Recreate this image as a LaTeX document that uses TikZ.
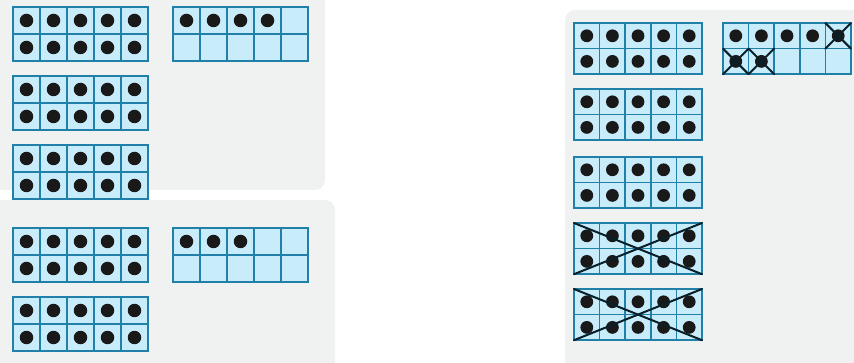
\documentclass[tikz,border=0pt]{standalone}
\usetikzlibrary{calc}
\definecolor{tfblue}{RGB}{32,128,168}
\definecolor{tfcell}{RGB}{200,236,250}
\definecolor{tfpanel}{RGB}{240,242,242}

\tikzset{
  panel/.style={fill=tfpanel, draw=none, rounded corners=10pt},
  frameline/.style={draw=tfblue, line width=2.2pt},
  innerline/.style={draw=tfblue, line width=1.7pt},
  counter/.style={fill=black!90},
  crossline/.style={draw=black!75!tfblue, line width=2pt, line cap=round},
}

% ten frame: left, top, cell size, number of counters
\newcommand{\tenframe}[4]{%
  \begin{scope}[shift={(#1,#2)}]
    \fill[tfcell] (0,0) rectangle (5*#3,2*#3);
    \foreach \i in {1,...,4}
      \draw[innerline] (\i*#3,0) -- (\i*#3,2*#3);
    \draw[innerline] (0,#3) -- (5*#3,#3);
    \draw[frameline] (0,0) rectangle (5*#3,2*#3);
    \foreach \k in {1,...,#4} {
      \pgfmathtruncatemacro{\col}{mod(\k-1,5)}
      \pgfmathtruncatemacro{\row}{(\k-1)/5}
      \fill[counter] ({(\col+0.5)*#3},{(\row+0.5)*#3}) circle ({0.25*#3});
    }
  \end{scope}
}

% cross out one cell: left, top, cell size, column, row
\newcommand{\crosscell}[5]{%
  \begin{scope}[shift={(#1,#2)}]
    \draw[crossline] ({#4*#3},{#5*#3}) -- ({(#4+1)*#3},{(#5+1)*#3});
    \draw[crossline] ({(#4+1)*#3},{#5*#3}) -- ({#4*#3},{(#5+1)*#3});
  \end{scope}
}

% cross out a whole frame: left, top, cell size
\newcommand{\crossframe}[3]{%
  \begin{scope}[shift={(#1,#2)}]
    \draw[crossline] (0,0) -- (5*#3,2*#3);
    \draw[crossline] (5*#3,0) -- (0,2*#3);
  \end{scope}
}

\begin{document}
\begin{tikzpicture}[x=1pt, y=-1pt]
\useasboundingbox (0,0) rectangle (854,363);
\fill[white] (0,0) rectangle (854,363);

% === Paneles ===
\fill[panel] (-12,-12) rectangle (325,190);
\fill[panel] (-12,200) rectangle (335,375);
\fill[panel] (565,10) rectangle (866,375);

% === Izquierda: 34 ===
\tenframe{13}{7}{27}{10}
\tenframe{173}{7}{27}{4}
\tenframe{13}{76}{27}{10}
\tenframe{13}{145}{27}{10}

% === Izquierda: 23 ===
\tenframe{13}{228}{27}{10}
\tenframe{173}{228}{27}{3}
\tenframe{13}{297}{27}{10}

% === Derecha: 47 - 23 ===
\tenframe{574}{23}{25.6}{10}
\tenframe{723}{23}{25.6}{7}
\tenframe{574}{89}{25.6}{10}
\tenframe{574}{157}{25.6}{10}
\tenframe{574}{223}{25.6}{10}
\tenframe{574}{289}{25.6}{10}

% Tachado
\crosscell{723}{23}{25.6}{4}{0}
\crosscell{723}{23}{25.6}{0}{1}
\crosscell{723}{23}{25.6}{1}{1}
\crossframe{574}{223}{25.6}
\crossframe{574}{289}{25.6}

\end{tikzpicture}
\end{document}
